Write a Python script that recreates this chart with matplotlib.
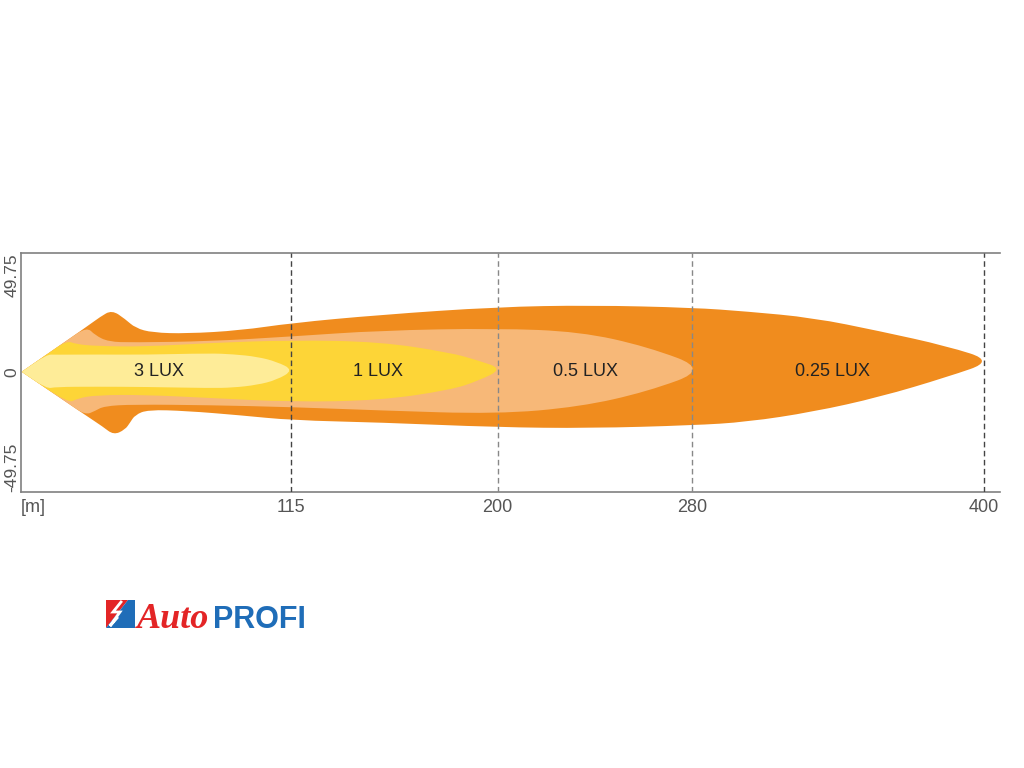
import numpy as np
import matplotlib
matplotlib.use("Agg")
import matplotlib.pyplot as plt
from matplotlib.path import Path
from matplotlib.patches import PathPatch, Polygon

plt.rcParams['font.family'] = ['Liberation Sans', 'DejaVu Sans']

# ---------------- data (metres) ----------------
distance_ticks = [115, 200, 280, 400]
width_ticks = [-49.75, 0, 49.75]
width_tick_labels = ["-49.75", "0", "49.75"]

# 0.25 lux contour (top edge left->right, then bottom edge right->left)
lux025_x = [4.2, 4.2, 31.0, 36.5, 41.3, 46.7, 51.0, 58.0, 72.0, 94.0, 115.3, 151.6,
            199.7, 238.0, 280.3, 302.5, 329.7, 357.2, 384.8, 404.0,
            384.8, 357.2, 329.7, 302.5, 280.3, 238.0, 199.7, 151.6, 115.3, 94.0,
            72.0, 56.0, 50.8, 48.8, 46.7, 42.0, 37.5, 30.3]
lux025_y = [0.3, 0.3, 19.1, 23.2, 26.0, 22.3, 18.5, 16.6, 16.2, 17.5, 20.6, 24.0,
            27.3, 28.0, 27.0, 25.4, 22.8, 17.2, 11.0, 4.8,
            -1.9, -10.2, -16.4, -20.6, -22.0, -23.2, -22.8, -20.8, -19.9, -17.8,
            -16.0, -15.5, -17.7, -20.8, -23.8, -26.0, -22.5, -17.7]

# 0.5 lux contour
lux05_x = [4.2, 4.2, 22.7, 31.0, 34.4, 39.9, 50.0, 81.7, 115.3, 151.6, 199.7, 233.8,
           261.4, 286.5,
           261.4, 233.8, 199.7, 151.6, 115.3, 81.7, 50.0, 38.0, 34.4, 30.3, 23.4]
lux05_y = [0.3, 0.3, 13.3, 19.0, 15.5, 12.8, 12.5, 13.0, 15.0, 17.5, 18.4, 17.0,
           10.8, 1.3,
           -8.0, -14.3, -17.3, -15.8, -14.4, -13.6, -13.3, -14.0, -16.0, -17.7, -12.9]

# 1 lux contour
lux1_x = [4.2, 4.2, 14.5, 22.7, 26.5, 35.0, 54.9, 81.7, 115.3, 151.6, 180.4, 192.0,
          202.0,
          192.0, 180.4, 151.6, 115.3, 81.7, 54.9, 35.0, 27.0, 23.4]
lux1_y = [0.3, 0.3, 7.5, 13.3, 11.8, 11.0, 10.75, 12.3, 13.5, 12.8, 8.3, 5.0,
          1.5,
          -3.5, -7.3, -11.6, -12.3, -10.6, -9.3, -9.4, -10.8, -12.9]

# 3 lux contour
lux3_x = [4.2, 4.2, 14.5, 18.0, 35.0, 54.9, 81.7, 91.1, 100.9, 109.1, 116.0,
          109.1, 100.9, 91.1, 81.7, 54.9, 35.0, 18.0, 14.5]
lux3_y = [0.3, 0.3, 7.5, 7.4, 7.5, 7.4, 8.0, 7.6, 6.6, 4.5, 1.0,
          -3.1, -5.2, -6.3, -6.5, -6.0, -5.9, -6.0, -6.8]

zone_labels = ["3 LUX", "1 LUX", "0.5 LUX", "0.25 LUX"]
zone_label_x = [60.7, 150.8, 236.3, 337.5]
zone_label_y = [0.5, 0.5, 0.5, 0.5]

# ---------------- styles ----------------
c_025 = "#F08C1E"
c_05 = "#F7B878"
c_1 = "#FDD537"
c_3 = "#FEEC98"


def smooth_patch(xs, ys, color):
    pts = np.column_stack([xs, ys]).astype(float)
    mids = (pts + np.roll(pts, -1, axis=0)) / 2.0
    verts = [mids[-1]]
    codes = [Path.MOVETO]
    for i in range(len(pts)):
        verts += [pts[i], mids[i]]
        codes += [Path.CURVE3, Path.CURVE3]
    verts.append(mids[-1])
    codes.append(Path.CLOSEPOLY)
    return PathPatch(Path(verts, codes), facecolor=color, edgecolor='none', zorder=2)


fig = plt.figure(figsize=(10.24, 7.68), dpi=100)
ax = fig.add_axes([20.5 / 1024, 1 - 492 / 768, (1000 - 20.5) / 1024, (492 - 253) / 768])
ax.set_xlim(3.7, 406.6)
ax.set_ylim(-49.75, 49.75)

for xs, ys, col in [(lux025_x, lux025_y, c_025), (lux05_x, lux05_y, c_05),
                    (lux1_x, lux1_y, c_1), (lux3_x, lux3_y, c_3)]:
    ax.add_patch(smooth_patch(xs, ys, col))

dash_colors = ["#444444", "#888888", "#888888", "#444444"]
for xv, dc in zip(distance_ticks, dash_colors):
    ax.axvline(xv, color=dc, lw=1.0, ls=(0, (4, 2.5)), zorder=3)

for t, xv, yv in zip(zone_labels, zone_label_x, zone_label_y):
    ax.text(xv, yv, t, ha='center', va='center', fontsize=13, color='#222222', zorder=4)

# spines
for s in ['left', 'top', 'bottom']:
    ax.spines[s].set_color('#808080')
    ax.spines[s].set_linewidth(1.2)
ax.spines['right'].set_visible(False)

xt = [ax.get_xlim()[0]] + distance_ticks
ax.set_xticks(xt)
ax.set_xticklabels(["[m]"] + [str(v) for v in distance_ticks])
ax.tick_params(axis='x', length=0, pad=5, labelsize=13, labelcolor='#555555')
ax.get_xticklabels()[0].set_ha('left')

ax.set_yticks(width_ticks)
ax.set_yticklabels(width_tick_labels)
ax.tick_params(axis='y', length=0, pad=0.8, labelsize=12.5, labelcolor='#555555')
for lab, va in zip(ax.get_yticklabels(), ['bottom', 'center', 'top']):
    lab.set_rotation(90)
    lab.set_va(va)
    lab.set_ha('right')

# ---------------- logo ----------------
lax = fig.add_axes([100 / 1024, 1 - 636 / 768, 215 / 1024, 42 / 768])
lax.set_xlim(100, 315)
lax.set_ylim(636, 594)
lax.axis('off')
lax.add_patch(Polygon([[106, 600], [128, 600], [106, 628]], closed=True, fc='#E32526', ec='none'))
lax.add_patch(Polygon([[128, 600], [135, 600], [135, 628], [106, 628]], closed=True, fc='#1F6DB8', ec='none'))
lax.plot([121, 113, 120, 110, 117], [602, 612, 612, 626, 618], color='white', lw=2.0, solid_joinstyle='miter')
lax.text(137, 628, "Auto", family=['Liberation Serif', 'DejaVu Serif'], style='italic',
         weight='bold', fontsize=26, color='#E32526', ha='left', va='baseline')
lax.text(213, 628, "PROFI", family=['Liberation Sans', 'DejaVu Sans'], weight='bold',
         fontsize=22, color='#1F6DB8', ha='left', va='baseline')

fig.savefig("out.png", dpi=100)
